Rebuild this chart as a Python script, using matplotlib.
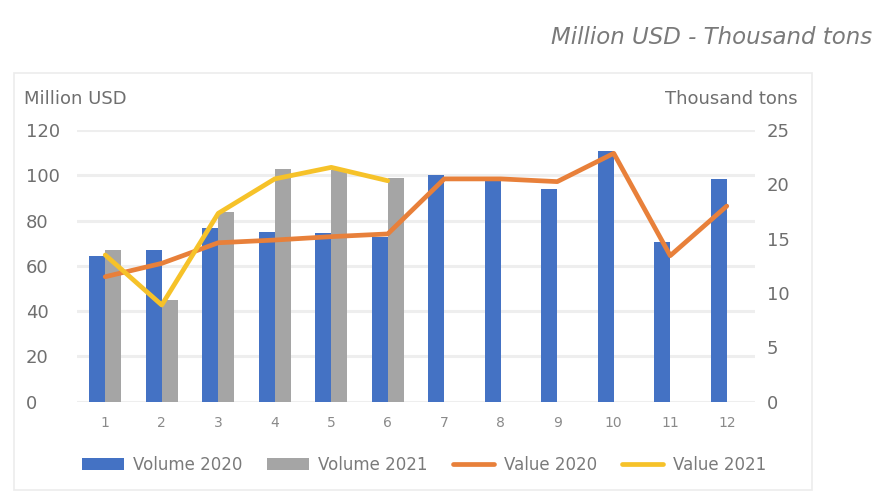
import numpy as np
import matplotlib
matplotlib.use("Agg")
import matplotlib.pyplot as plt
import matplotlib.patches as patches
from matplotlib.transforms import blended_transform_factory

months = [1, 2, 3, 4, 5, 6, 7, 8, 9, 10, 11, 12]
volume_2020 = [13.4, 14.0, 16.0, 15.6, 15.5, 15.2, 20.9, 20.4, 19.6, 23.1, 14.7, 20.5]
volume_2021 = [14.0, 9.4, 17.5, 21.4, 21.3, 20.6]
value_2020 = [55.2, 61.1, 70.2, 71.4, 72.9, 74.1, 98.4, 98.4, 97.2, 109.7, 64.5, 86.4]
value_2021 = [64.8, 42.7, 83.2, 98.4, 103.5, 97.6]

left_ticks = [0, 20, 40, 60, 80, 100, 120]
right_ticks = [0, 5, 10, 15, 20, 25]

blue = '#4472c4'
gray = '#a5a5a5'
orange = '#e8803a'
yellow = '#f6c229'
txt = '#6f6f6f'

W, H = 876, 494
fig = plt.figure(figsize=(W / 100, H / 100), dpi=100)

# faint panel frame
fig.patches.append(patches.Rectangle((14 / W, 1 - 490 / H), (812 - 14) / W, (490 - 73) / H,
                                     transform=fig.transFigure, facecolor='white',
                                     edgecolor='#ececec', linewidth=1.2, zorder=-5))

ax2 = fig.add_axes([77 / W, 1 - 401.7 / H, (755 - 77) / W, (401.7 - 130) / H])
ax = ax2.twinx()
# left (value) axis on top so lines cover the bars
ax.yaxis.tick_left()
ax2.yaxis.tick_right()
ax2.set_zorder(1)
ax.set_zorder(2)
ax.patch.set_visible(False)
ax2.patch.set_visible(False)

x = np.array(months)
w = 0.28
ax2.bar(x - w / 2, volume_2020, width=w, color=blue, label='Volume 2020', zorder=2)
ax2.bar(x[:len(volume_2021)] + w / 2, volume_2021, width=w, color=gray, label='Volume 2021', zorder=2)
ax2.set_ylim(0, 25)
ax2.set_xlim(0.5, 12.5)

ax.plot(x, value_2020, color=orange, lw=3.4, solid_capstyle='round', label='Value 2020')
ax.plot(x[:len(value_2021)], value_2021, color=yellow, lw=3.4, solid_capstyle='round', label='Value 2021')
ax.set_ylim(0, 120)

# gridlines under the bars, in value units
tr = blended_transform_factory(ax2.transAxes, ax.transData)
for v in left_ticks:
    ax2.plot([0, 1], [v, v], transform=tr, color='#eeeeee', lw=2.2, zorder=0)

for a in (ax, ax2):
    for s in a.spines.values():
        s.set_visible(False)

ax.set_yticks(left_ticks)
ax.tick_params(axis='y', length=0, pad=36.7, labelsize=13, labelcolor=txt)
for lab in ax.get_yticklabels():
    lab.set_horizontalalignment('left')
ax2.set_yticks(right_ticks)
ax2.tick_params(axis='y', length=0, pad=8.6, labelsize=13, labelcolor=txt)
ax2.set_xticks(months)
ax2.tick_params(axis='x', length=0, pad=10, labelsize=10, labelcolor='#8a8a8a')
ax.tick_params(axis='x', bottom=False, labelbottom=False)

fig.text(24 / W, 1 - 99 / H, 'Million USD', fontsize=13, color=txt, va='center', ha='left')
fig.text(798 / W, 1 - 99 / H, 'Thousand tons', fontsize=13, color=txt, va='center', ha='right')
fig.text(872 / W, 1 - 38 / H, 'Million USD - Thousand tons', fontsize=16.5, style='italic',
         color='#7a7a7a', va='center', ha='right')

h2, l2 = ax2.get_legend_handles_labels()
h1, l1 = ax.get_legend_handles_labels()
fig.legend(h2 + h1, l2 + l1, loc='center', bbox_to_anchor=(424 / W, 1 - 465 / H), ncol=4,
           frameon=False, fontsize=12, labelcolor='#7a7a7a', handlelength=2.5, handletextpad=0.55,
           columnspacing=1.5)

fig.savefig('out.png', dpi=100, facecolor='white')
